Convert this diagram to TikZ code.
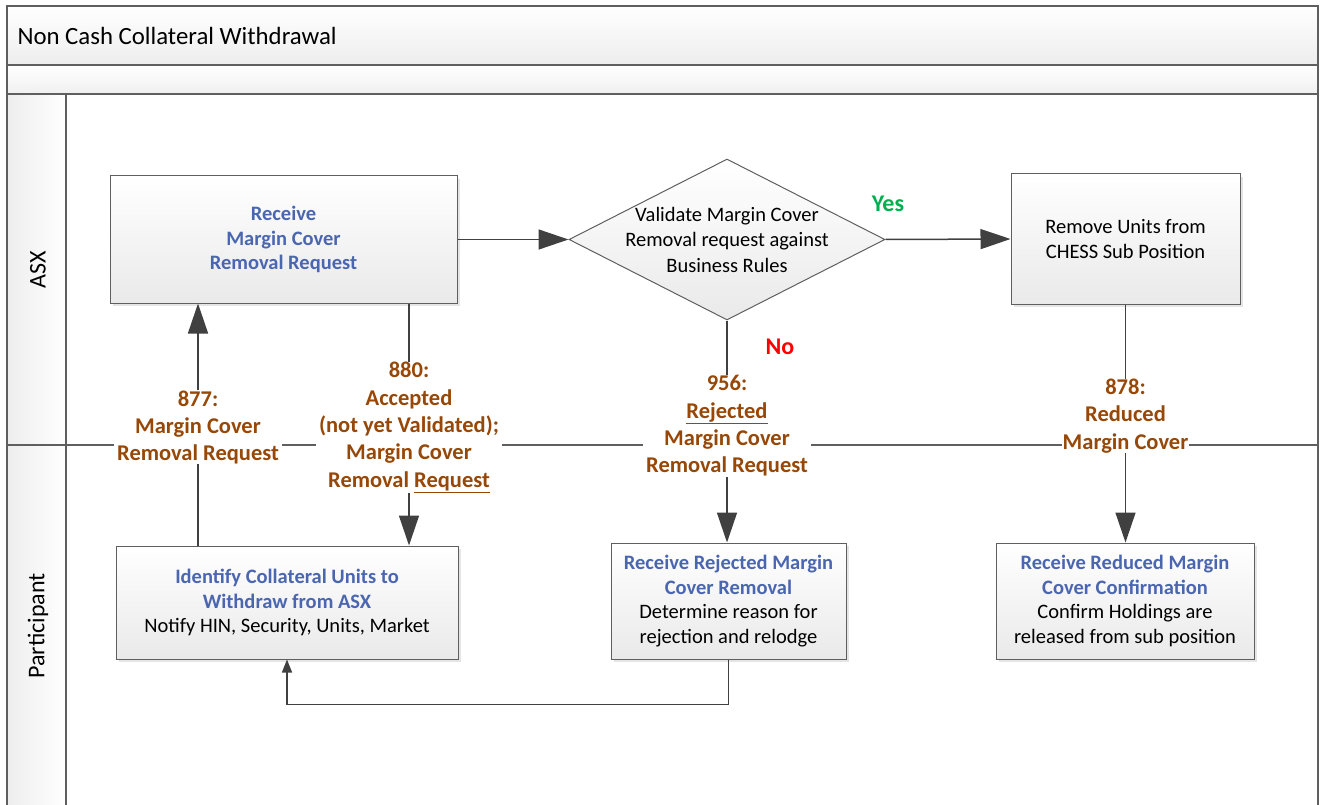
\documentclass[tikz,border=0pt]{standalone}
\usepackage{fontspec}
\setmainfont{Carlito}
\usetikzlibrary{arrows.meta,shapes.geometric,shadows,positioning}
\definecolor{asxblue}{HTML}{4A66B0}
\definecolor{msgbrown}{HTML}{974706}
\definecolor{yesgreen}{HTML}{00B050}
\definecolor{edge}{HTML}{404040}
\definecolor{rim}{HTML}{5F5F5F}
\newcommand\hd[1]{\textcolor{asxblue}{\bfseries #1}}

\begin{document}
\begin{tikzpicture}[x=1pt,y=-1pt,
  box/.style={draw=rim,line width=1pt,top color=white,bottom color=gray!17,
    drop shadow={shadow xshift=3pt,shadow yshift=-3pt,fill=gray!40,opacity=.5},
    align=center,inner sep=0pt,font=\fontsize{20.5}{24.6}\selectfont},
  decision/.style={diamond,draw=rim,line width=1pt,top color=white,bottom color=gray!17,inner sep=0pt},
  plain/.style={align=center,font=\fontsize{20.5}{25.5}\selectfont},
  flow/.style={draw=edge,line width=1.5pt,-{Triangle[length=30pt,width=20pt]}},
  back/.style={draw=edge,line width=1.5pt,-{Triangle[length=13pt,width=10pt]}},
  msg/.style={fill=white,text=msgbrown,align=center,inner xsep=3pt,inner ysep=0pt,
    font=\fontsize{22.5}{27.4}\selectfont\bfseries},
  lane/.style={draw=rim,line width=1.2pt}]
\useasboundingbox (0,0) rectangle (1320,805);
\shade[top color=white,bottom color=gray!14] (7,6) rectangle (1318,65);
\shade[top color=white,bottom color=gray!12] (7,65) rectangle (1318,94);
\shade[left color=gray!14,right color=white] (7,94) rectangle (66,805);
\draw[lane] (7,805) -- (7,6) -- (1318,6) -- (1318,805);
\draw[lane] (7,65) -- (1318,65);
\draw[lane] (7,94) -- (1318,94);
\draw[lane] (66,94) -- (66,805);
\draw[lane] (7,445) -- (1318,445);
\node[anchor=west,font=\fontsize{24.8}{28}\selectfont] (title) at (14,36) {Non Cash Collateral Withdrawal};
\node[rotate=90,font=\fontsize{24}{28}\selectfont] (asx) at (38,270) {ASX};
\node[rotate=90,font=\fontsize{24}{28}\selectfont] (part) at (38,626) {Participant};
\coordinate (up) at (198,445);
\coordinate (down) at (409,445);

\node[box,minimum width=347,minimum height=127] (recv) at (283.5,239.5) {\hd{Receive}\\\hd{Margin Cover}\\\hd{Removal Request}};
\node[decision,minimum width=316,minimum height=161] (val) at (727,239.5) {};
\node[plain] (valtext) at (val) {Validate Margin Cover\\Removal request against\\Business Rules};
\node[box,font=\fontsize{20.5}{25.5}\selectfont,minimum width=229,minimum height=130] (remove) at (1125.5,239) {Remove Units from\\CHESS Sub Position};
\node[box,minimum width=342,minimum height=113] (ident) at (287,602.5) {\hd{Identify Collateral Units to}\\\hd{Withdraw from ASX}\\Notify HIN, Security, Units, Market};
\node[box,minimum width=235,minimum height=116] (rej) at (728.5,601) {\hd{Receive Rejected Margin}\\\hd{Cover Removal}\\Determine reason for\\rejection and relodge};
\node[box,minimum width=258,minimum height=116] (red) at (1125,601) {\hd{Receive Reduced Margin}\\\hd{Cover Confirmation}\\Confirm Holdings are\\released from sub position};

\draw[flow] (recv.east) -- (val.west);
\draw[flow] (val.east) -- (remove.west);
\node[text=yesgreen,font=\fontsize{24}{28}\selectfont\bfseries] (yes) at (888,204) {Yes};
\node[text=red,font=\fontsize{24}{28}\selectfont\bfseries] (no) at (780,347) {No};
\draw[flow] (val.south) -- node[msg,pos=.475] (m956) {956:\\\underline{Rejected}\\Margin Cover\\Removal Request} (val.south |- rej.north);
\draw[flow] (remove.south) -- node[msg,pos=.468,inner xsep=1pt] (m878) {878:\\Reduced\\Margin Cover} (remove.south |- red.north);
\draw[flow] (ident.north -| up) -- node[msg,pos=.488] (m877) {877:\\Margin Cover\\Removal Request} (recv.south -| up);
\draw[flow] (recv.south -| down) -- node[msg,pos=.512] (m880) {880:\\Accepted\\(not yet Validated);\\Margin Cover\\Removal \underline{Request}} (ident.north -| down);
\draw[back] (rej.south) -- ++(0,45) -| (ident.south);
\end{tikzpicture}
\end{document}
